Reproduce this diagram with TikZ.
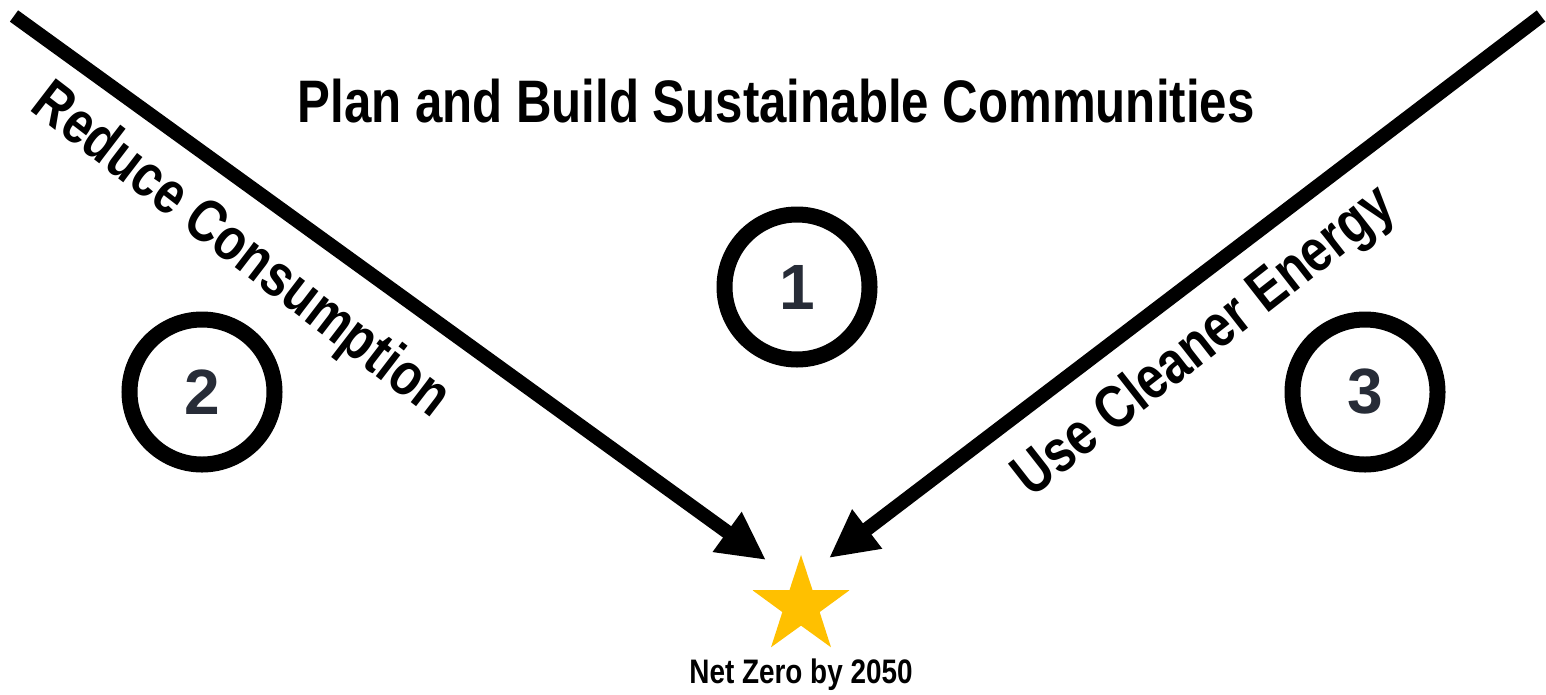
\documentclass[tikz,border=0pt]{standalone}
\usepackage{fontspec}
\setmainfont{Liberation Sans}[FakeStretch=0.82]
\newfontfamily\numfont{Liberation Sans}
\usetikzlibrary{arrows.meta,shapes.geometric}
\definecolor{starcol}{HTML}{FFC000}
\definecolor{numcol}{HTML}{272C37}
\tikzset{
  bigarrow/.style={line width=14pt,-{Triangle[length=48pt,width=46pt]}},
  ring/.style={circle,draw=black,line width=16pt,minimum size=145pt,inner sep=0pt,
    font=\numfont\bfseries\fontsize{64}{64}\selectfont,text=numcol},
  lbl/.style={font=\bfseries\fontsize{60}{60}\selectfont,inner sep=0pt},
}
\begin{document}
\begin{tikzpicture}[x=1pt,y=-1pt]
\useasboundingbox (0,0) rectangle (1546,694);
\node[lbl] (title) at (776,101) {Plan and Build Sustainable Communities};
\node[ring] (c1) at (797,287) {1};
\node[ring] (c2) at (202,392) {2};
\node[ring] (c3) at (1365,392) {3};
\node[star,star points=5,star point ratio=2.6,fill=starcol,minimum size=102pt,inner sep=0pt] (star) at (801,606) {};
\node[font=\bfseries\fontsize{34}{34}\selectfont,inner sep=0pt] (net) at (801,675) {Net Zero by 2050};
\coordinate (L0) at (14,16);
\coordinate (Ltip) at (766,560);
\coordinate (R0) at (1541,16);
\coordinate (Rtip) at (829,558);
\draw[bigarrow] (L0) -- (Ltip);
\draw[bigarrow] (R0) -- (Rtip);
\node[lbl,rotate=-37.5] (red) at (240,252) {Reduce Consumption};
\node[lbl,rotate=38] (use) at (1205,343) {Use Cleaner Energy};
\end{tikzpicture}
\end{document}
